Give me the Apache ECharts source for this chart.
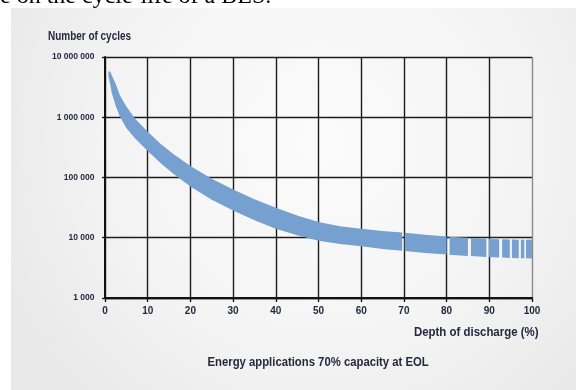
<!DOCTYPE html>
<html>
<head>
<meta charset="utf-8">
<script src="https://cdn.jsdelivr.net/npm/echarts@6/dist/echarts.min.js"></script>
<style>
  html, body { margin: 0; padding: 0; background: #ffffff; }
  #chart { width: 576px; height: 390px; }
</style>
</head>
<body>
<div id="chart"></div>
<script>
// Depth of discharge (%) sample points along the cycle-life band
const depth = [0.8, 1.2, 1.6, 2.5, 3.5, 5, 7, 10, 13, 16, 20, 25, 30, 35, 40, 45, 50, 55, 60, 65, 69.6,
  70.2, 75, 80, 80.7, 85, 85.7, 89.3, 89.9, 92.3, 93, 94.8, 95.3, 96.9, 97.4, 98.2, 98.6, 100];
// Upper edge of the band (number of cycles)
const upperCycles = [5750000, 5750000, 5000000, 3550000, 2290000, 1510000, 955000, 575000, 363000, 245000,
  155000, 95500, 63100, 43600, 31600, 23400, 18200, 15500, 14100, 12900, 12200,
  12100, 11200, 10500, 10400, 10000, 9950, 9600, 9550, 9450, 9400, 9350, 9330, 9300, 9300, 9300, 9300, 9300];
// Lower edge of the band (number of cycles)
const lowerCycles = [4790000, 3550000, 2510000, 1550000, 1020000, 661000, 447000, 275000, 174000, 115000,
  70800, 42700, 28200, 19500, 14100, 11000, 8900, 7900, 7200, 6500, 6100,
  6050, 5600, 5250, 5200, 5000, 4980, 4800, 4780, 4700, 4680, 4620, 4610, 4570, 4560, 4550, 4550, 4550];
// The band is split into blocks; each pair is [first index, last index] into the arrays above
const bandBlocks = [[0, 20], [21, 23], [24, 25], [26, 27], [28, 29], [30, 31], [32, 33], [34, 35], [36, 37]];

const xTicks = ['0', '10', '20', '30', '40', '50', '60', '70', '80', '90', '100'];
const yTicks = ['1 000', '10 000', '100 000', '1 000 000', '10 000 000'];

const sans = '"Liberation Sans", Arial, sans-serif';
const ink = '#262840';

const chart = echarts.init(document.getElementById('chart'), null, { renderer: 'canvas' });

const gridColors = xTicks.map((t, i) => i === xTicks.length - 1 ? '#8a8a8a' : '#1c1c1c');

// Condensed-looking captions: a normal face squeezed horizontally
function caption(text, x, y, size, squeeze, align) {
  return {
    type: 'text', z: 10, x: x, y: y, scaleX: squeeze, scaleY: 1,
    style: {
      text: text, font: 'bold ' + size + 'px ' + sans, fill: ink,
      textAlign: align, textVerticalAlign: 'middle'
    }
  };
}

chart.setOption({
  animation: false,
  backgroundColor: '#ffffff',
  graphic: [
    {
      type: 'rect', z: -10, silent: true,
      shape: { x: 11, y: 8, width: 565, height: 382 },
      style: {
        fill: new echarts.graphic.RadialGradient(0.55, 0.35, 0.9, [
          { offset: 0, color: '#fbfbfb' },
          { offset: 0.6, color: '#f4f4f4' },
          { offset: 1, color: '#e9e9e9' }
        ])
      }
    },
    {
      type: 'text', z: 10, x: 0, y: -3,
      style: {
        text: 'e on the cycle-life of a BES.',
        font: '24px "Liberation Serif", "DejaVu Serif", serif',
        fill: '#000000', textAlign: 'left', textVerticalAlign: 'middle'
      }
    },
    caption('Number of cycles', 48, 37, 12, 0.83, 'left'),
    caption('Depth of discharge (%)', 538.5, 332, 13, 0.88, 'right'),
    caption('Energy applications 70% capacity at EOL', 207.5, 362, 13, 0.87, 'left')
  ],
  grid: { left: 105, right: 44, top: 57, bottom: 92, containLabel: false },
  xAxis: {
    type: 'value', min: 0, max: 100, interval: 10,
    axisLine: { show: true, lineStyle: { color: '#111', width: 2 } },
    axisTick: { show: true, length: 4, lineStyle: { color: '#111', width: 1.3 } },
    axisLabel: {
      margin: 8.5, color: ink, fontFamily: sans, fontWeight: 'bold', fontSize: 10,
      formatter: (v) => xTicks[Math.round(v / 10)]
    },
    splitLine: { show: true, lineStyle: { color: gridColors, width: 1.4 } }
  },
  yAxis: {
    type: 'log', logBase: 10, min: 1000, max: 10000000,
    axisLine: { show: true, lineStyle: { color: '#111', width: 2 } },
    axisTick: { show: true, length: 3, lineStyle: { color: '#111', width: 1.3 } },
    axisLabel: {
      margin: 10.5, color: ink, fontFamily: sans, fontWeight: 'bold', fontSize: 8.5,
      formatter: (v) => yTicks[Math.round(Math.log10(v)) - 3]
    },
    splitLine: { show: true, lineStyle: { color: '#1c1c1c', width: 1.4 } }
  },
  series: [{
    type: 'custom',
    z: 5,
    data: bandBlocks.map((b) => [depth[b[0]], upperCycles[b[0]], b[0], b[1]]),
    encode: { x: 0, y: 1 },
    renderItem: (params, api) => {
      const i0 = api.value(2), i1 = api.value(3);
      const pts = [];
      for (let i = i0; i <= i1; i++) pts.push(api.coord([depth[i], upperCycles[i]]));
      for (let i = i1; i >= i0; i--) pts.push(api.coord([depth[i], lowerCycles[i]]));
      return {
        type: 'polygon',
        shape: { points: pts, smooth: 0 },
        style: { fill: '#76a0d0', stroke: null }
      };
    }
  }]
});
</script>
</body>
</html>
